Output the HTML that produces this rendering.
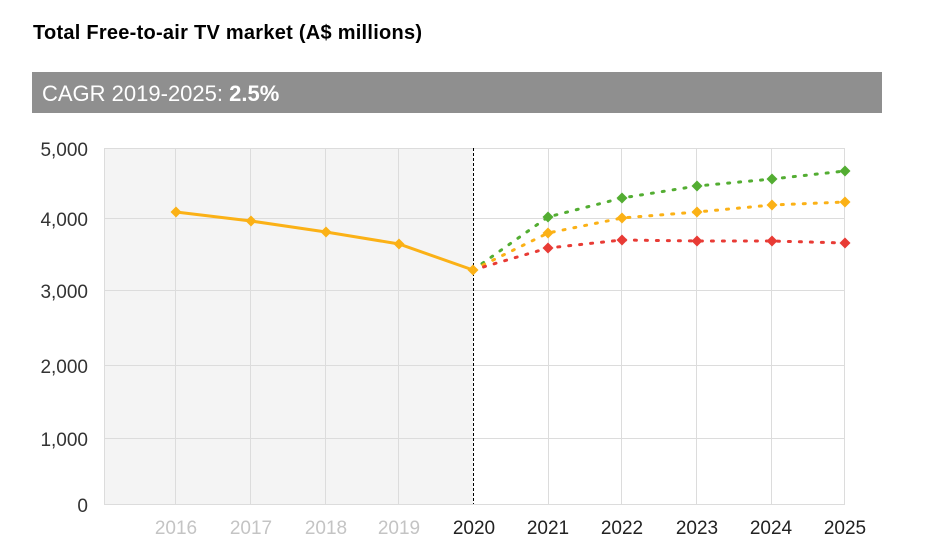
<!DOCTYPE html>
<html><head><meta charset="utf-8"><style>
body{margin:0;background:#fff;width:937px;height:552px;overflow:hidden;font-family:"Liberation Sans",Arial,sans-serif}
</style></head><body>
<svg width="937" height="552" xmlns="http://www.w3.org/2000/svg" font-family="Liberation Sans, Arial, sans-serif">
<text x="33" y="39" font-size="20" font-weight="bold" fill="#000" textLength="389">Total Free-to-air TV market (A$ millions)</text>
<rect x="32" y="72" width="850" height="41" fill="#8f8f8f"/>
<text x="42" y="101" font-size="22" fill="#fff">CAGR 2019-2025: <tspan font-weight="bold">2.5%</tspan></text>
<rect x="104" y="148" width="369" height="356" fill="#f4f4f4"/>
<g stroke="#dcdcdc" stroke-width="1">
<line x1="104" x2="845" y1="148.5" y2="148.5"/>
<line x1="104" x2="845" y1="218.5" y2="218.5"/>
<line x1="104" x2="845" y1="290.5" y2="290.5"/>
<line x1="104" x2="845" y1="365.5" y2="365.5"/>
<line x1="104" x2="845" y1="438.5" y2="438.5"/>
<line x1="104" x2="845" y1="504.5" y2="504.5"/>
<line x1="104.5" x2="104.5" y1="148" y2="504"/>
<line x1="175.5" x2="175.5" y1="148" y2="504"/>
<line x1="250.5" x2="250.5" y1="148" y2="504"/>
<line x1="325.5" x2="325.5" y1="148" y2="504"/>
<line x1="398.5" x2="398.5" y1="148" y2="504"/>
<line x1="548.5" x2="548.5" y1="148" y2="504"/>
<line x1="621.5" x2="621.5" y1="148" y2="504"/>
<line x1="696.5" x2="696.5" y1="148" y2="504"/>
<line x1="771.5" x2="771.5" y1="148" y2="504"/>
<line x1="844.5" x2="844.5" y1="148" y2="504"/>
</g>
<line x1="473.5" x2="473.5" y1="148" y2="504" stroke="#000" stroke-width="1" stroke-dasharray="3,2"/>
<g font-size="19" fill="#333" text-anchor="end">
<text x="88" y="156">5,000</text><text x="88" y="226">4,000</text><text x="88" y="298">3,000</text>
<text x="88" y="373">2,000</text><text x="88" y="446">1,000</text><text x="88" y="512">0</text>
</g>
<g font-size="19" text-anchor="middle">
<text x="176" y="534" fill="#c4c4c4">2016</text><text x="251" y="534" fill="#c4c4c4">2017</text>
<text x="326" y="534" fill="#c4c4c4">2018</text><text x="399" y="534" fill="#c4c4c4">2019</text>
<text x="474" y="534" fill="#222">2020</text><text x="548" y="534" fill="#222">2021</text>
<text x="622" y="534" fill="#222">2022</text><text x="697" y="534" fill="#222">2023</text>
<text x="771" y="534" fill="#222">2024</text><text x="845" y="534" fill="#222">2025</text>
</g>
<defs><path id="d" d="M0,-5.5 L5.5,0 L0,5.5 L-5.5,0Z"/></defs>
<polyline points="473,270 548,217 622,198 697,186 772,179 845,171" fill="none" stroke="#53ad32" stroke-width="3" stroke-dasharray="2,9" stroke-linecap="round"/>
<polyline points="473,270 548,233 622,218 697,212 772,205 845,202" fill="none" stroke="#fbb116" stroke-width="3" stroke-dasharray="2,9" stroke-linecap="round"/>
<polyline points="473,270 548,248 622,240 697,241 772,241 845,243" fill="none" stroke="#e83b35" stroke-width="3" stroke-dasharray="2,9" stroke-linecap="round"/>
<polyline points="176,212 251,221 326,232 399,244 473,270" fill="none" stroke="#fbb116" stroke-width="3"/>
<g fill="#53ad32"><use href="#d" x="548" y="217"/><use href="#d" x="622" y="198"/><use href="#d" x="697" y="186"/><use href="#d" x="772" y="179"/><use href="#d" x="845" y="171"/></g>
<g fill="#fbb116"><use href="#d" x="548" y="233"/><use href="#d" x="622" y="218"/><use href="#d" x="697" y="212"/><use href="#d" x="772" y="205"/><use href="#d" x="845" y="202"/>
<use href="#d" x="176" y="212"/><use href="#d" x="251" y="221"/><use href="#d" x="326" y="232"/><use href="#d" x="399" y="244"/><use href="#d" x="473" y="270"/></g>
<g fill="#e83b35"><use href="#d" x="548" y="248"/><use href="#d" x="622" y="240"/><use href="#d" x="697" y="241"/><use href="#d" x="772" y="241"/><use href="#d" x="845" y="243"/></g>
</svg>
</body></html>
